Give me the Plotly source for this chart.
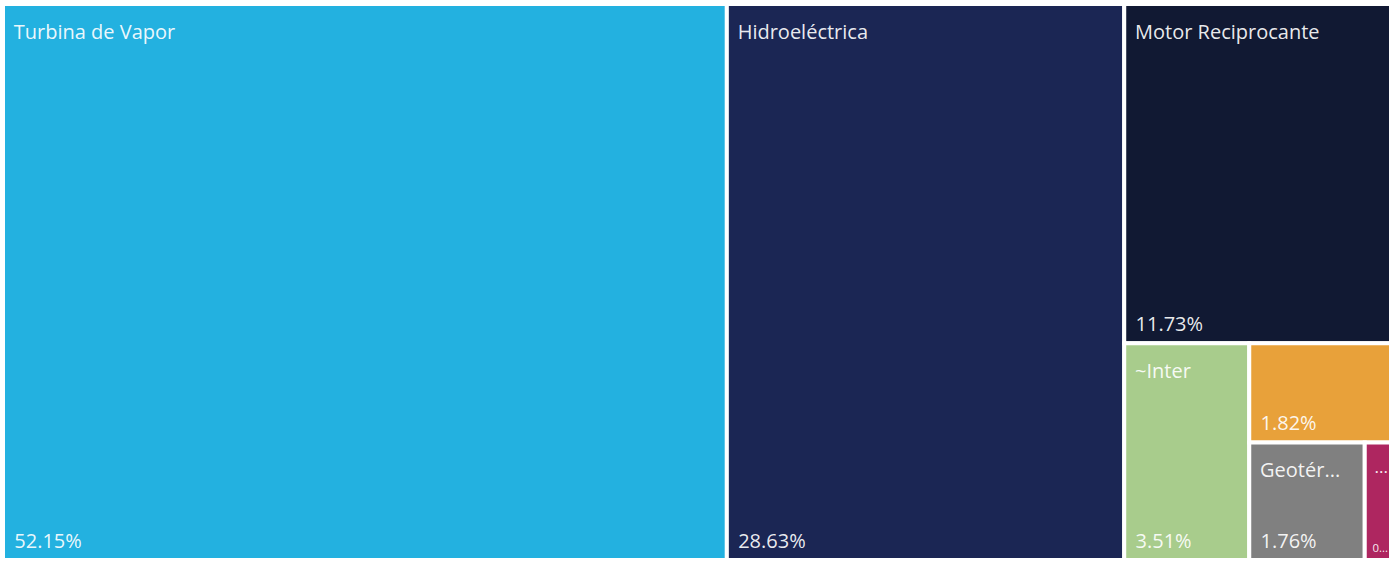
import plotly.graph_objects as go

labels = ["Turbina de Vapor", "Hidroeléctrica", "Motor Reciprocante", "~Interconexión",
          "Turbina de Gas", "Geotérmica", "Eólica"]
shown_names = ["Turbina de Vapor", "Hidroeléctrica", "Motor Reciprocante", "~Inter",
               "", "Geotér...", "..."]
values = [52.15, 28.63, 11.73, 3.51, 1.82, 1.76, 0.40]
shown_pcts = ["52.15%", "28.63%", "11.73%", "3.51%", "1.82%", "1.76%", "0..."]
colors = ["#23B1E0", "#1B2654", "#111933", "#A8CC8C", "#E8A13A", "#808080", "#AE2660"]

parents = [""] * len(labels)
font_family = "Segoe UI, Open Sans, Noto Sans, sans-serif"
TOP_PAD = "<span style='font-size:30px'>\u00a0</span>"
BOT_PAD = "<span style='font-size:32px'>\u00a0</span>"

fig = go.Figure()
fig.add_trace(go.Treemap(
    labels=labels, parents=parents, values=values,
    sort=True, tiling=dict(packing="squarify", squarifyratio=1, pad=0),
    marker=dict(colors=colors, line=dict(color="white", width=4),
                pad=dict(t=0, l=0, r=0, b=0)),
    text=[TOP_PAD + s if s else "" for s in shown_names], texttemplate="%{text}",
    textposition="top left",
    textfont=dict(family=font_family, size=20, color="rgba(255,255,255,0.92)"),
    pathbar=dict(visible=False), hoverinfo="label+value",
))
fig.add_trace(go.Treemap(
    labels=labels, parents=parents, values=values,
    sort=True, tiling=dict(packing="squarify", squarifyratio=1, pad=0),
    marker=dict(colors=["rgba(0,0,0,0)"] * len(labels), line=dict(color="rgba(0,0,0,0)", width=4),
                pad=dict(t=0, l=0, r=0, b=0)),
    text=[BOT_PAD + s for s in shown_pcts], texttemplate="%{text}", textposition="bottom left",
    textfont=dict(family=font_family, size=20, color="rgba(255,255,255,0.92)"),
    pathbar=dict(visible=False), hoverinfo="skip",
))
fig.update_layout(
    width=1395, height=561,
    margin=dict(l=3, r=4, t=4, b=1),
    paper_bgcolor="white",
    showlegend=False,
)
fig.write_html("out.html", config={"displayModeBar": False},
               post_script="document.body.style.margin='0';")
